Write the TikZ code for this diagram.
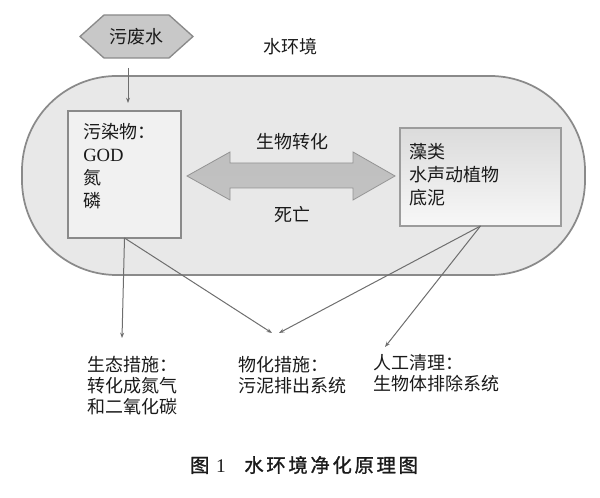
\documentclass[tikz,border=0pt]{standalone}
\usepackage{fontspec}
\setmainfont{Liberation Serif}
\newfontfamily\cjk{Noto Sans CJK SC}
\newfontfamily\capfont[LetterSpace=14,FakeBold=1.2]{Noto Sans CJK SC}
\usetikzlibrary{arrows.meta}
\definecolor{envfill}{HTML}{E8E8E8}
\definecolor{edge}{HTML}{8A8A8A}
\definecolor{boxfill}{HTML}{F1F1F1}
\definecolor{hexfill}{HTML}{C8C8C8}
\definecolor{conncol}{HTML}{6E6E6E}
\definecolor{ink}{HTML}{1A1A1A}
\begin{document}
\begin{tikzpicture}[x=0.75pt,y=-0.75pt,
  txt/.style={text=ink, inner sep=0pt, font=\cjk\fontsize{13.5}{17.25}\selectfont},
  listtxt/.style={txt, anchor=north west, align=left},
  bottomtxt/.style={txt, anchor=north west, align=left, font=\cjk\fontsize{13.5}{15.75}\selectfont},
  conn/.style={draw=conncol, line width=0.75pt, -{Stealth[length=4pt,width=3pt]}},
  boxstyle/.style={draw=edge, line width=1.1pt, inner sep=0pt, outer sep=0pt}]
\useasboundingbox (0,0) rectangle (600,498);

% water environment
\node[boxstyle, fill=envfill, line width=1.3pt, minimum width=422.25pt, minimum height=149.25pt,
  rounded corners=71pt] (env) at (303.5,175.5) {};
\node[txt] (envlabel) at (290,47) {水环境};

% sewage hexagon
\draw[draw=edge, fill=hexfill, line width=1pt] (80,36.5) -- (104,15) -- (169,15) -- (193,36.5) -- (169,58) -- (104,58) -- cycle;
\node[txt] (sewage) at (136.5,37) {污废水};
\coordinate (s1) at (128,68);
\coordinate (s2) at (128,103);
\draw[conn] (s1) -- (s2);

% pollutants box
\node[boxstyle, fill=boxfill, minimum width=84.75pt, minimum height=95.25pt] (pollut) at (124.5,174.5) {};
\node[listtxt] (pollutxt) at (83,123.5) {污染物：\\{\rmfamily\fontsize{14}{17.25}\selectfont GOD}\\氮\\磷};

% biota box
\node[boxstyle, draw=edge!85, top color=gray!28, bottom color=gray!6, minimum width=120.75pt, minimum height=73.5pt] (biota) at (480.5,177) {};
\node[listtxt] (biotatxt) at (409,143.5) {藻类\\水声动植物\\底泥};

% double arrow
\shadedraw[draw=gray!85, line width=0.6pt, top color=gray!50, middle color=gray!82, bottom color=gray!48]
  (187,176) -- (230,152) -- (230,163) -- (353,163) -- (353,152) -- (395,176)
  -- (353,200) -- (353,188) -- (230,188) -- (230,200) -- cycle;
\node[txt] (bio) at (292,142) {生物转化};
\node[txt] (death) at (292,215) {死亡};

% measures
\coordinate (eco) at (122,338);
\coordinate (phys1) at (272,333);
\coordinate (phys2) at (279,333);
\coordinate (manual) at (385,347);
\draw[conn] (pollut.south) -- (eco);
\draw[conn] (pollut.south) -- (phys1);
\draw[conn] (biota.south) -- (phys2);
\draw[conn] (biota.south) -- (manual);

\node[bottomtxt] (ecotxt) at (87,356.5) {生态措施：\\转化成氮气\\和二氧化碳};
\node[bottomtxt] (phystxt) at (238,356.5) {物化措施：\\污泥排出系统};
\node[bottomtxt] (mantxt) at (373,354.5) {人工清理：\\生物体排除系统};

% caption
\node[text=ink, inner sep=0pt] (caption) at (304,465)
  {\capfont\fontsize{14.5}{16}\selectfont 图\hspace{5pt}{\rmfamily 1}\hspace{14pt}水环境净化原理图};
\end{tikzpicture}
\end{document}
